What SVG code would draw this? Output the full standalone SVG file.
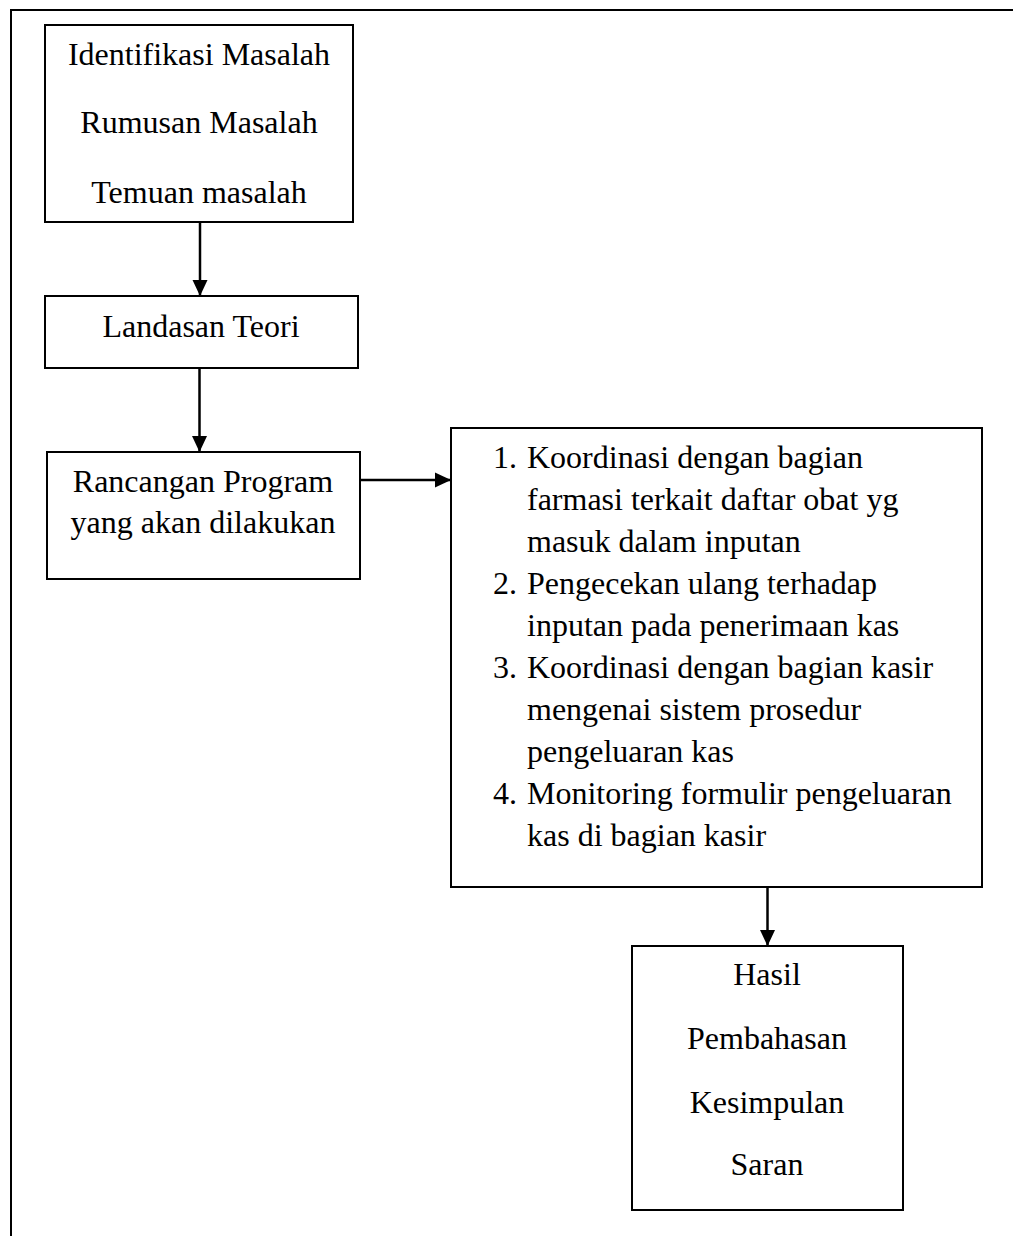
<svg xmlns="http://www.w3.org/2000/svg" width="1013" height="1236" viewBox="0 0 1013 1236">
  <style>
    .box { fill: #fff; stroke: #000; stroke-width: 2; }
    .frame { fill: none; stroke: #000; stroke-width: 2; }
    .conn { fill: none; stroke: #000; stroke-width: 2.5; }
    text { font-family: "Liberation Serif", "Times New Roman", serif; font-size: 32px; fill: #000; }
    .c { text-anchor: middle; }
  </style>
  <defs>
    <marker id="arrow" markerUnits="userSpaceOnUse" markerWidth="17" markerHeight="17" viewBox="0 0 17 17" refX="16" refY="8.5" orient="auto">
      <path d="M0,1 L16,8.5 L0,16 Z" fill="#000"/>
    </marker>
  </defs>
  <rect width="1013" height="1236" fill="#fff"/>
  <path class="frame" d="M11,1236 V10 H1013"/>

  <g id="connectors">
    <line class="conn" x1="200" y1="222" x2="200" y2="296" marker-end="url(#arrow)"/>
    <line class="conn" x1="199.5" y1="368" x2="199.5" y2="452" marker-end="url(#arrow)"/>
    <line class="conn" x1="360" y1="480" x2="451" y2="480" marker-end="url(#arrow)"/>
    <line class="conn" x1="767.5" y1="887" x2="767.5" y2="946" marker-end="url(#arrow)"/>
  </g>

  <g id="node-identifikasi">
    <rect class="box" x="45" y="25" width="308" height="197"/>
    <text class="c" x="199" y="65">Identifikasi Masalah</text>
    <text class="c" x="199" y="133">Rumusan Masalah</text>
    <text class="c" x="199" y="203">Temuan masalah</text>
  </g>

  <g id="node-landasan">
    <rect class="box" x="45" y="296" width="313" height="72"/>
    <text class="c" x="201" y="337">Landasan Teori</text>
  </g>

  <g id="node-rancangan">
    <rect class="box" x="47" y="452" width="313" height="127"/>
    <text class="c" x="203" y="492">Rancangan Program</text>
    <text class="c" x="203" y="533">yang akan dilakukan</text>
  </g>

  <g id="node-program">
    <rect class="box" x="451" y="428" width="531" height="459"/>
    <text x="493" y="468">1.</text>
    <text x="527" y="468">Koordinasi dengan bagian</text>
    <text x="527" y="510">farmasi terkait daftar obat yg</text>
    <text x="527" y="552">masuk dalam inputan</text>
    <text x="493" y="594">2.</text>
    <text x="527" y="594">Pengecekan ulang terhadap</text>
    <text x="527" y="636">inputan pada penerimaan kas</text>
    <text x="493" y="678">3.</text>
    <text x="527" y="678">Koordinasi dengan bagian kasir</text>
    <text x="527" y="720">mengenai sistem prosedur</text>
    <text x="527" y="762">pengeluaran kas</text>
    <text x="493" y="804">4.</text>
    <text x="527" y="804">Monitoring formulir pengeluaran</text>
    <text x="527" y="846">kas di bagian kasir</text>
  </g>

  <g id="node-hasil">
    <rect class="box" x="632" y="946" width="271" height="264"/>
    <text class="c" x="767" y="985">Hasil</text>
    <text class="c" x="767" y="1049">Pembahasan</text>
    <text class="c" x="767" y="1113">Kesimpulan</text>
    <text class="c" x="767" y="1175">Saran</text>
  </g>
</svg>
